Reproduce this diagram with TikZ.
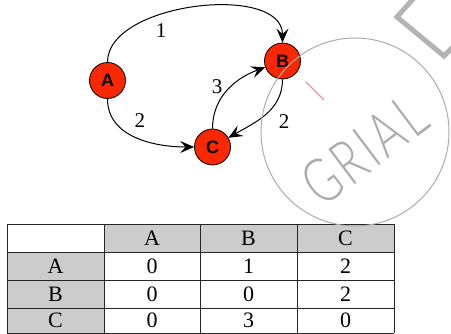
\documentclass[tikz,border=0pt]{standalone}
\usepackage{fontspec}
\setmainfont{Liberation Serif}
\newfontfamily\nodefont{Liberation Sans}
\newfontfamily\wmfont{Lato Light}[LetterSpace=8]
\usetikzlibrary{arrows.meta}
\definecolor{nodered}{RGB}{250,40,0}
\definecolor{cellgray}{RGB}{204,204,204}
\definecolor{wmgray}{RGB}{172,172,172}
\definecolor{wmpink}{RGB}{232,150,160}
\begin{document}
\begin{tikzpicture}[x=1pt,y=1pt,
  vertex/.style={circle,draw=black,line width=0.8pt,fill=nodered,minimum size=36pt,inner sep=0pt,
    font=\nodefont\bfseries\fontsize{18}{18}\selectfont},
  edge/.style={-{Stealth[length=14pt,width=12pt,inset=5.5pt]},line width=1pt},
  elabel/.style={font=\fontsize{21}{21}\selectfont,inner sep=0pt},
  cell/.style={font=\fontsize{22}{22}\selectfont,inner sep=0pt},
  grid/.style={line width=0.8pt,draw=black!85},
  wm/.style={draw=wmgray,line width=1pt},
]
\useasboundingbox (0,0) rectangle (451,334);

% graph
\node[vertex] (A) at (107.5,253.5) {A};
\node[vertex] (B) at (282.5,273) {B};
\node[vertex] (C) at (212.5,187) {C};

\draw[edge] (A) to[out=90,in=90,looseness=0.87] (B);
\draw[edge] (A) to[out=-90,in=180,looseness=1.0] (C);
\draw[edge] (C) to[out=90,in=200,looseness=1.0] (B);
\draw[edge] (B) to[out=-90,in=30,looseness=1.0] (C);

\node[elabel] (l1) at (161,303) {1};
\node[elabel] (l2) at (140,213) {2};
\node[elabel] (l3) at (217,247) {3};
\node[elabel] (l4) at (284,212) {2};

% table
\fill[cellgray] (104,81.5) rectangle (394,110);
\fill[cellgray] (7,1) rectangle (104,81.5);
\foreach \yy in {110,81.5,53.5,26,1} \draw[grid] (7,\yy) -- (394,\yy);
\foreach \xx in {7,104,200,297,394} \draw[grid] (\xx,1) -- (\xx,110);

\node[cell] (hA) at (152,95.75) {A};
\node[cell] (hB) at (248.5,95.75) {B};
\node[cell] (hC) at (345.5,95.75) {C};
\node[cell] (rA) at (55.5,67.5) {A};
\node[cell] (rB) at (55.5,39.75) {B};
\node[cell] (rC) at (55.5,13.5) {C};
\node[cell] (aa) at (152,67.5) {0};
\node[cell] (ab) at (248.5,67.5) {1};
\node[cell] (ac) at (345.5,67.5) {2};
\node[cell] (ba) at (152,39.75) {0};
\node[cell] (bb) at (248.5,39.75) {0};
\node[cell] (bc) at (345.5,39.75) {2};
\node[cell] (ca) at (152,13.5) {0};
\node[cell] (cb) at (248.5,13.5) {3};
\node[cell] (cc) at (345.5,13.5) {0};

% watermark
\draw[wm] (355,202) circle (94);
\draw[wmpink,line width=1.2pt] (306,252) -- (324,234);
\node[text=wmgray,rotate=37,xscale=0.72,font=\wmfont\fontsize{62}{62}\selectfont,inner sep=0pt] (wmtext) at (364,184) {GRIAL};
\draw[wmgray!90,line width=5pt] (414,336) -- (397,317) -- (444,278) -- (453,287);
\end{tikzpicture}
\end{document}
